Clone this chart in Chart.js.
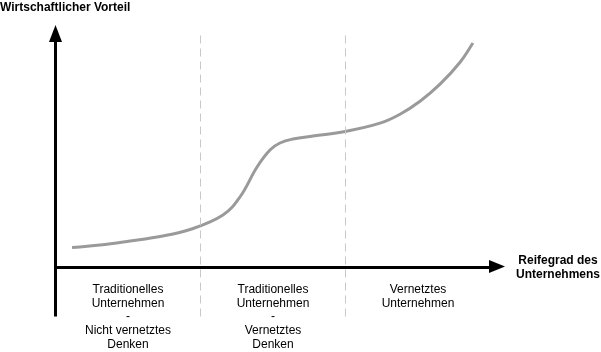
<!DOCTYPE html>
<html>
<head>
<meta charset="utf-8">
<script src="https://cdn.jsdelivr.net/npm/chart.js@4/dist/chart.umd.min.js"></script>
<style>
  html, body { margin: 0; padding: 0; background: #fff; }
  #wrap { width: 601px; height: 352px; position: relative; }
</style>
</head>
<body>
<div id="wrap"><canvas id="c"></canvas></div>
<script>
// ---- Data ----
const reifegrad = [0.114, 0.307, 0.514, 0.721, 0.928, 1.155, 1.272, 1.39, 1.479, 1.548, 1.638, 1.776, 1.997, 2.238, 2.376, 2.514, 2.652, 2.79, 2.879];
const vorteil   = [0.825, 0.928, 1.093, 1.278, 1.567, 2.165, 2.907, 4.144, 4.845, 5.134, 5.299, 5.423, 5.608, 5.951, 6.322, 6.858, 7.559, 8.466, 9.258];
const stageBoundaries = [1, 2];
const stageCenters = [0.5, 1.5, 2.5];
const stageLabels = [
  ['Traditionelles', 'Unternehmen', '-', 'Nicht vernetztes', 'Denken'],
  ['Traditionelles', 'Unternehmen', '-', 'Vernetztes', 'Denken'],
  ['Vernetztes', 'Unternehmen']
];
const yAxisTitle = 'Wirtschaftlicher Vorteil';
const xAxisTitle = ['Reifegrad des', 'Unternehmens'];
const xAxisEnd = 3.1;
const yAxisEnd = 10;
const yAxisStart = -2.02;
const dashTop = 9.62;

const FONT = '"Liberation Sans", Arial, Helvetica, sans-serif';

const axesPlugin = {
  id: 'axesPlugin',
  afterDatasetsDraw(chart) {
    const ctx = chart.ctx;
    const xs = chart.scales.x, ys = chart.scales.y;
    const ox = xs.getPixelForValue(0), oy = ys.getPixelForValue(0);
    ctx.save();
    ctx.fillStyle = '#000';
    ctx.strokeStyle = '#000';
    ctx.lineWidth = 3;
    // y axis
    const yTop = ys.getPixelForValue(yAxisEnd);
    const yBot = ys.getPixelForValue(yAxisStart);
    ctx.beginPath();
    ctx.moveTo(ox, yBot);
    ctx.lineTo(ox, yTop + 12);
    ctx.stroke();
    ctx.beginPath();
    ctx.moveTo(ox, yTop);
    ctx.lineTo(ox - 6.5, yTop + 17);
    ctx.lineTo(ox + 6.5, yTop + 17);
    ctx.closePath();
    ctx.fill();
    // x axis
    const xEnd = xs.getPixelForValue(xAxisEnd);
    ctx.beginPath();
    ctx.moveTo(ox - 1.5, oy);
    ctx.lineTo(xEnd - 12, oy);
    ctx.stroke();
    ctx.beginPath();
    ctx.moveTo(xEnd, oy - 1);
    ctx.lineTo(xEnd - 16, oy - 7.5);
    ctx.lineTo(xEnd - 16, oy + 5.5);
    ctx.closePath();
    ctx.fill();

    // texts
    ctx.textBaseline = 'middle';
    ctx.font = 'bold 12px ' + FONT;
    ctx.textAlign = 'left';
    ctx.fillText(yAxisTitle, 0, 8);
    ctx.textAlign = 'center';
    xAxisTitle.forEach((t, i) => ctx.fillText(t, 558, oy - 7 + i * 14.5));

    ctx.font = '12px ' + FONT;
    stageLabels.forEach((lines, si) => {
      const cx = xs.getPixelForValue(stageCenters[si]);
      lines.forEach((t, li) => ctx.fillText(t, cx, oy + 22 + li * 13.8));
    });
    ctx.restore();
  }
};

const dashSets = stageBoundaries.map(b => ({
  data: [{x: b, y: yAxisStart}, {x: b, y: dashTop}],
  borderColor: '#c8c8c8',
  borderWidth: 1,
  borderDash: [8, 5],
  pointRadius: 0,
  showLine: true,
  fill: false
}));

new Chart(document.getElementById('c'), {
  type: 'scatter',
  data: {
    datasets: [
      ...dashSets,
      {
        data: reifegrad.map((x, i) => ({x, y: vorteil[i]})),
        borderColor: '#9a9a9a',
        borderWidth: 3,
        pointRadius: 0,
        showLine: true,
        tension: 0.4,
        fill: false
      }
    ]
  },
  options: {
    responsive: true,
    maintainAspectRatio: false,
    animation: false,
    events: [],
    layout: { padding: 0 },
    plugins: { legend: { display: false }, tooltip: { enabled: false }, title: { display: false } },
    scales: {
      x: { type: 'linear', display: false, min: -55.5 / 145, max: (601 - 55.5) / 145 },
      y: { type: 'linear', display: false, min: -(352 - 267.5) / 24.25, max: 267.5 / 24.25 }
    }
  },
  plugins: [axesPlugin]
});
</script>
</body>
</html>
